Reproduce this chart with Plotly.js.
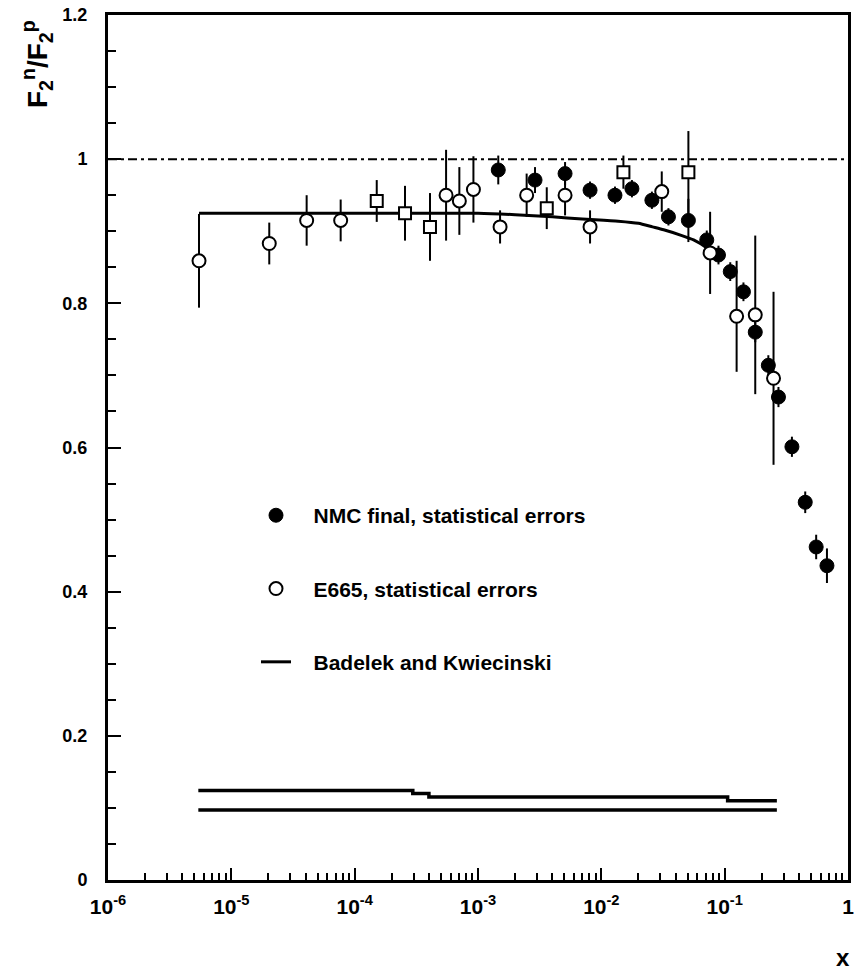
<!DOCTYPE html>
<html><head><meta charset="utf-8">
<script src="https://cdn.plot.ly/plotly-3.0.1.min.js"></script>
<style>html,body{margin:0;padding:0;background:#fff}</style>
</head><body>
<div id="chart" style="width:861px;height:971px"></div>
<script>
// NMC final (filled circles)
const nmcX = [0.00146, 0.0029, 0.00508, 0.0081, 0.0129, 0.0177, 0.0257, 0.0350, 0.0508, 0.0716, 0.0891, 0.111, 0.142, 0.177, 0.226, 0.273, 0.351, 0.450, 0.552, 0.675];
const nmcY = [0.985, 0.971, 0.980, 0.957, 0.950, 0.959, 0.943, 0.920, 0.915, 0.888, 0.867, 0.844, 0.816, 0.760, 0.714, 0.670, 0.601, 0.524, 0.462, 0.436];
const nmcErr = [0.020, 0.018, 0.016, 0.012, 0.012, 0.012, 0.012, 0.012, 0.030, 0.013, 0.013, 0.013, 0.013, 0.014, 0.014, 0.014, 0.014, 0.015, 0.017, 0.024];

// E665 (open circles)
const e665X = [5.47e-6, 2.03e-5, 4.08e-5, 7.7e-5, 5.51e-4, 7.06e-4, 9.18e-4, 1.51e-3, 2.48e-3, 5.08e-3, 8.1e-3, 0.0309, 0.0762, 0.125, 0.177, 0.249];
const e665Y = [0.859, 0.883, 0.915, 0.915, 0.950, 0.942, 0.958, 0.906, 0.950, 0.950, 0.906, 0.955, 0.870, 0.782, 0.784, 0.696];
const e665Err = [0.065, 0.029, 0.035, 0.029, 0.063, 0.047, 0.046, 0.023, 0.030, 0.028, 0.023, 0.028, 0.057, 0.077, 0.110, 0.120];

// E665 (open squares)
const e665SqX = [1.51e-4, 2.56e-4, 4.08e-4, 3.61e-3, 0.0151, 0.0508];
const e665SqY = [0.942, 0.925, 0.906, 0.932, 0.982, 0.982];
const e665SqErr = [0.029, 0.038, 0.047, 0.029, 0.023, 0.057];

// Badelek and Kwiecinski model curve
const modelX = [5.47e-6, 1.0e-3, 2.0e-3, 4.0e-3, 7.0e-3, 0.0137, 0.020, 0.026, 0.032, 0.045, 0.056, 0.070, 0.085];
const modelY = [0.925, 0.925, 0.923, 0.920, 0.917, 0.914, 0.911, 0.906, 0.902, 0.894, 0.888, 0.878, 0.864];

// systematic band lines at the bottom
const sysUpperX = [5.4e-6, 2.96e-4, 4.0e-4, 0.1057, 0.265];
const sysUpperY = [0.124, 0.120, 0.115, 0.110, 0.110];
const sysLowerX = [5.4e-6, 0.265];
const sysLowerY = [0.097, 0.097];

// legend labels
const nameNMC = 'NMC final, statistical errors';
const nameE665 = 'E665, statistical errors';
const nameModel = 'Badelek and Kwiecinski';

// axis ticks
const xTickVals = [1e-6, 1e-5, 1e-4, 1e-3, 1e-2, 1e-1, 1];
const xTickText = ['10<sup>-6</sup>', '10<sup>-5</sup>', '10<sup>-4</sup>', '10<sup>-3</sup>', '10<sup>-2</sup>', '10<sup>-1</sup>', '1'];
const yTickVals = [0, 0.2, 0.4, 0.6, 0.8, 1, 1.2];
const yTickText = ['0', '0.2', '0.4', '0.6', '0.8', '1', '1.2'];

const xMinor = [];
for (let e = -6; e < 0; e++) for (let m = 2; m <= 9; m++) xMinor.push(m * Math.pow(10, e));

const FONT = "'Liberation Sans', Arial, sans-serif";
const PAD = '\u00a0\u00a0\u00a0';
const errStyle = {type: 'data', visible: true, thickness: 2, width: 0, color: '#000'};

const traces = [
  {x: sysUpperX, y: sysUpperY, mode: 'lines', line: {color: '#000', width: 3.5, shape: 'hv'}, showlegend: false, hoverinfo: 'skip'},
  {x: sysLowerX, y: sysLowerY, mode: 'lines', line: {color: '#000', width: 3.5}, showlegend: false, hoverinfo: 'skip'},
  {x: modelX, y: modelY, mode: 'lines', name: PAD + nameModel, legendgroup: 'c', legendrank: 3,
   line: {color: '#000', width: 3, shape: 'spline', smoothing: 0.6}},
  {x: nmcX, y: nmcY, mode: 'markers', name: PAD + nameNMC, legendgroup: 'a', legendrank: 1,
   marker: {symbol: 'circle', size: 14, color: '#000', line: {color: '#000', width: 1}},
   error_y: Object.assign({array: nmcErr}, errStyle)},
  {x: e665SqX, y: e665SqY, mode: 'markers', showlegend: false,
   marker: {symbol: 'square', size: 12, color: '#fff', line: {color: '#000', width: 2}},
   error_y: Object.assign({array: e665SqErr}, errStyle)},
  {x: e665X, y: e665Y, mode: 'markers', name: PAD + nameE665, legendgroup: 'b', legendrank: 2,
   marker: {symbol: 'circle', size: 13, color: '#fff', line: {color: '#000', width: 2}},
   error_y: Object.assign({array: e665Err}, errStyle)}
];

const layout = {
  width: 861, height: 971,
  margin: {l: 108, r: 13, t: 15, b: 91},
  paper_bgcolor: '#fff', plot_bgcolor: '#fff',
  font: {family: FONT, color: '#000', size: 19, weight: 'bold'},
  showlegend: true,
  legend: {x: 0.2, y: 0.445, xanchor: 'left', yanchor: 'top', bgcolor: 'rgba(0,0,0,0)', borderwidth: 0,
           font: {size: 21, family: FONT, weight: 'bold'}, tracegroupgap: 43, itemwidth: 30, traceorder: 'grouped'},
  xaxis: {type: 'log', range: [-6, 0], showgrid: false, zeroline: false,
          showline: true, linewidth: 3, linecolor: '#000', mirror: true,
          ticks: 'inside', ticklen: 12, tickwidth: 2, tickcolor: '#000',
          tickmode: 'array', tickvals: xTickVals, ticktext: xTickText,
          tickfont: {size: 21, family: FONT, weight: 'bold'}, ticklabelstandoff: 6,
          minor: {tickmode: 'array', tickvals: xMinor, ticks: 'inside', ticklen: 7, tickwidth: 2, tickcolor: '#000', showgrid: false}},
  yaxis: {range: [0, 1.2], showgrid: false, zeroline: false,
          showline: true, linewidth: 3, linecolor: '#000', mirror: true,
          ticks: 'inside', ticklen: 13, tickwidth: 2, tickcolor: '#000',
          tickmode: 'array', tickvals: yTickVals, ticktext: yTickText,
          tickfont: {size: 18, family: FONT, weight: 'bold'}, ticklabelstandoff: 14,
          minor: {dtick: 0.05, ticks: 'inside', ticklen: 8, tickwidth: 2, tickcolor: '#000', showgrid: false}},
  shapes: [
    {type: 'line', xref: 'paper', x0: 0, x1: 1, yref: 'y', y0: 1, y1: 1,
     line: {color: '#000', width: 2, dash: '9px,4px,3px,4px'}}
  ],
  annotations: [
    {text: 'F<sub>2</sub><sup>n</sup>/F<sub>2</sub><sup>p</sup>', xref: 'paper', yref: 'paper',
     x: -0.095, y: 0.943, xanchor: 'center', yanchor: 'middle', textangle: -90, showarrow: false,
     font: {size: 28, family: FONT, weight: 'bold'}},
    {text: 'x', xref: 'paper', yref: 'paper', x: 0.993, y: -0.09, xanchor: 'center', yanchor: 'middle',
     showarrow: false, font: {size: 24, family: FONT, weight: 'bold'}}
  ]
};

Plotly.newPlot('chart', traces, layout, {displayModeBar: false, staticPlot: true});
</script>
</body></html>
